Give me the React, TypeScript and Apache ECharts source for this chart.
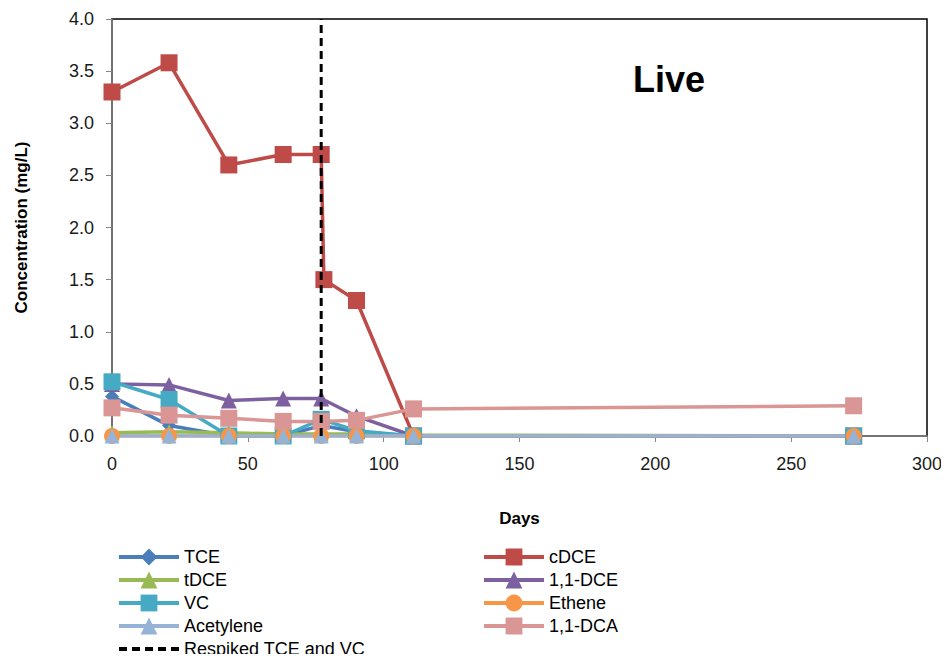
import React, { useEffect, useRef } from "react";
import * as echarts from "echarts";

const days = [0, 21, 43, 63, 77, 90, 111, 273];
const tce = [0.38, 0.1, 0, 0, 0.1, 0.04, 0, 0];
const cdceDays = [0, 21, 43, 63, 77, 78, 90, 111, 273];
const cdce = [3.3, 3.58, 2.6, 2.7, 2.7, 1.5, 1.3, 0, 0];
const tdce = [0.03, 0.04, 0.03, 0.02, 0.02, 0.02, 0.01, 0];
const dce11 = [0.5, 0.49, 0.34, 0.36, 0.36, 0.19, 0, 0];
const vc = [0.52, 0.35, 0, 0, 0.16, 0.05, 0, 0];
const ethene = [0, 0, 0, 0, 0, 0, 0, 0];
const acetylene = [0, 0, 0, 0, 0, 0, 0, 0];
const dca11 = [0.27, 0.2, 0.17, 0.14, 0.14, 0.15, 0.26, 0.29];
const respikeDay = 77;
const yTicks = [0, 4];
const xRange = [0, 300];

const FONT = "'Liberation Sans', Arial, sans-serif";

function pairs(xs: number[], ys: number[]) {
  return xs.map((x, i) => [x, ys[i]]);
}

export default function App() {
  const ref = useRef<HTMLDivElement>(null);
  useEffect(() => {
    if (!ref.current) return;
    const chart = echarts.init(ref.current, undefined, { renderer: "svg" });
    const mk = (
      name: string,
      data: number[][],
      color: string,
      symbol: string,
      size: number
    ) => ({
      name,
      type: "line",
      data,
      symbol,
      symbolSize: size,
      showAllSymbol: true,
      lineStyle: { color, width: 3.5 },
      itemStyle: { color, borderColor: color, borderWidth: 0 },
      emphasis: { disabled: true },
      z: 3,
    });
    const legendText = { fontFamily: FONT, fontSize: 18, color: "#000", lineHeight: 18 };
    const legendBase = {
      orient: "vertical",
      top: 548,
      height: 112,
      padding: 0,
      itemWidth: 60,
      itemHeight: 21,
      itemGap: 5,
      textStyle: legendText,
      selectedMode: false,
      lineStyle: { width: 4 },
    };
    chart.setOption({
      animation: false,
      textStyle: { fontFamily: FONT },
      title: {
        text: "Live",
        left: 628,
        top: 56,
        textStyle: { fontFamily: FONT, fontSize: 36, fontWeight: "bold", color: "#000" },
      },
      grid: {
        left: 112,
        right: 22,
        top: 19,
        bottom: 226,
        show: true,
        borderColor: "#000",
        borderWidth: 1.5,
        backgroundColor: "#fff",
      },
      legend: [
        {
          ...legendBase,
          left: 117,
          data: [
            "TCE",
            "tDCE",
            "VC",
            "Acetylene",
            {
              name: "Respiked TCE and VC",
              itemStyle: { color: "rgba(0,0,0,0)", borderWidth: 0, borderColor: "rgba(0,0,0,0)" },
            },
          ],
        },
        {
          ...legendBase,
          left: 482,
          data: ["cDCE", "1,1-DCE", "Ethene", "1,1-DCA"],
        },
      ],
      xAxis: {
        type: "value",
        min: xRange[0],
        max: xRange[1],
        interval: 50,
        name: "Days",
        nameLocation: "middle",
        nameGap: 74,
        nameTextStyle: { fontFamily: FONT, fontSize: 17, fontWeight: "bold", color: "#000" },
        axisLine: { show: true, lineStyle: { color: "#868686", width: 1.5 } },
        axisTick: { show: true, inside: false, length: 6, lineStyle: { color: "#868686" } },
        axisLabel: { fontFamily: FONT, fontSize: 18, color: "#1a1a1a", margin: 19 },
        splitLine: { show: false },
      },
      yAxis: {
        type: "value",
        min: yTicks[0],
        max: yTicks[1],
        interval: 0.5,
        name: "Concentration (mg/L)",
        nameLocation: "middle",
        nameGap: 82,
        nameTextStyle: { fontFamily: FONT, fontSize: 17, fontWeight: "bold", color: "#000" },
        axisLine: { show: true, lineStyle: { color: "#868686", width: 1.5 } },
        axisTick: { show: true, inside: false, length: 6, lineStyle: { color: "#868686" } },
        axisLabel: {
          fontFamily: FONT,
          fontSize: 18,
          color: "#1a1a1a",
          margin: 18,
          formatter: (v: number) => v.toFixed(1),
        },
        splitLine: { show: false },
      },
      series: [
        mk("TCE", pairs(days, tce), "#4A7EBB", "diamond", 14),
        mk("cDCE", pairs(cdceDays, cdce), "#BE4B48", "rect", 17),
        mk("tDCE", pairs(days, tdce), "#98B954", "triangle", 15),
        mk("1,1-DCE", pairs(days, dce11), "#7D60A0", "triangle", 16),
        mk("VC", pairs(days, vc), "#46AAC5", "rect", 17),
        mk("Ethene", pairs(days, ethene), "#F79646", "circle", 16),
        mk("Acetylene", pairs(days, acetylene), "#95B3D7", "triangle", 15),
        mk("1,1-DCA", pairs(days, dca11), "#D99694", "rect", 17),
        {
          name: "Respiked TCE and VC",
          type: "line",
          data: [
            [respikeDay, yTicks[0]],
            [respikeDay, yTicks[1]],
          ],
          symbol: "none",
          lineStyle: { color: "#000", width: 3, type: [8, 5] },
          itemStyle: { color: "#000" },
          emphasis: { disabled: true },
          z: 5,
        },
      ],
    });
    return () => chart.dispose();
  }, []);
  return <div ref={ref} style={{ width: 949, height: 662, margin: -8 }} />;
}
